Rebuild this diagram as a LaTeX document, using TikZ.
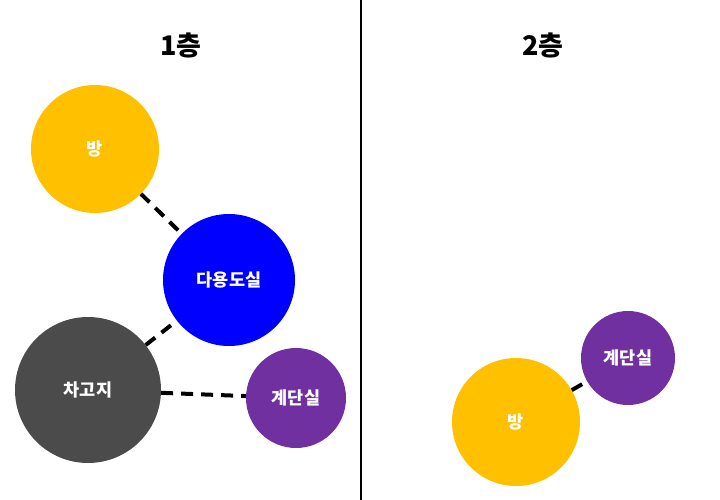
\documentclass[tikz,border=0pt]{standalone}
\usepackage{fontspec}
\setmainfont{Noto Sans CJK KR}
\definecolor{roomyellow}{HTML}{FFC000}
\definecolor{utilblue}{HTML}{0000FF}
\definecolor{garagegray}{HTML}{4B4B4B}
\definecolor{stairpurple}{HTML}{7030A0}
\tikzset{
  room/.style={circle,inner sep=0pt,text=white,font=\bfseries\fontsize{17.5}{20}\selectfont},
  link/.style={line width=4pt,dash pattern=on 12pt off 8pt},
  floortitle/.style={font=\bfseries\fontsize{27}{30}\selectfont}
}
\begin{document}
\begin{tikzpicture}[x=1pt,y=-1pt]
  \useasboundingbox (0,0) rectangle (720,500);
  % divider between floors
  \draw[line width=2pt] (361,0) -- (361,500);
  \node[floortitle] (t1) at (181,45) {1층};
  \node[floortitle] (t2) at (543,45) {2층};
  % 1st floor
  \foreach \x/\y/\r/\c/\n/\t in {95/149/64/roomyellow/room1/방, 229/280/66/utilblue/util1/다용도실,
      88/390/73/garagegray/garage1/차고지, 296/398/50/stairpurple/stair1/계단실}
    { \node[room,fill=\c,minimum size=2*\r pt] (\n) at (\x,\y) {\t}; }
  \draw[link] (room1) -- (util1);
  \draw[link] (garage1) -- (util1);
  \draw[link] (garage1) -- (stair1);
  % 2nd floor
  \node[room,fill=stairpurple,minimum size=94pt] (stair2) at (628,358) {계단실};
  \node[room,fill=roomyellow,minimum size=128pt] (room2) at (516,422) {방};
  \draw[link] (room2) -- (stair2);
\end{tikzpicture}
\end{document}
